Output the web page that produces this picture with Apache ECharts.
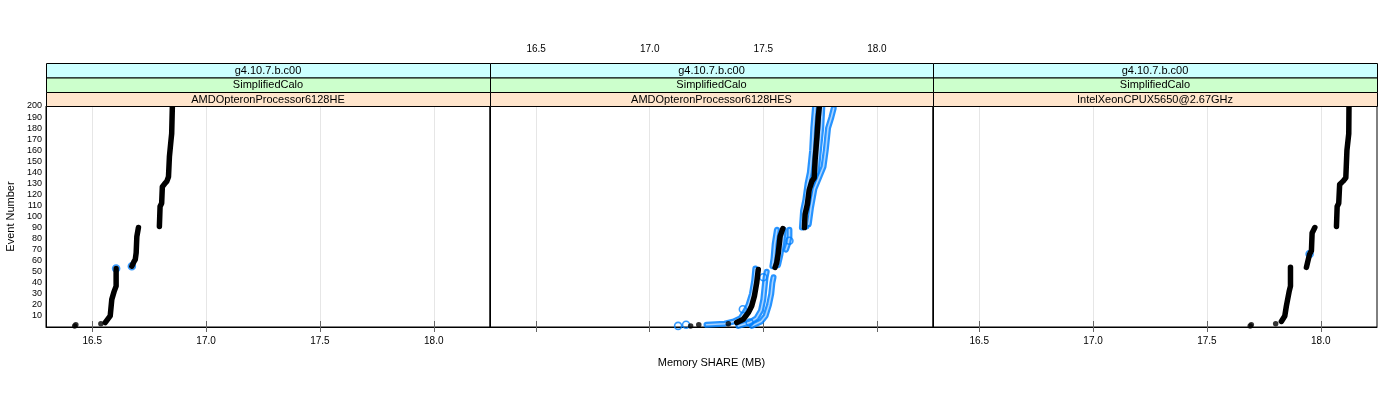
<!DOCTYPE html>
<html>
<head>
<meta charset="utf-8">
<script src="https://cdn.jsdelivr.net/npm/echarts@6/dist/echarts.min.js"></script>
<style>html,body{margin:0;padding:0;background:#fff}#c{width:1400px;height:400px}</style>
</head>
<body>
<div id="c"></div>
<script>
// ---- data ----
const stripTop = ['g4.10.7.b.c00', 'g4.10.7.b.c00', 'g4.10.7.b.c00'];
const stripMid = ['SimplifiedCalo', 'SimplifiedCalo', 'SimplifiedCalo'];
const stripBot = ['AMDOpteronProcessor6128HE', 'AMDOpteronProcessor6128HES', 'IntelXeonCPUX5650@2.67GHz'];
const xTicks = [16.5, 17.0, 17.5, 18.0];
const yTicks = [10,20,30,40,50,60,70,80,90,100,110,120,130,140,150,160,170,180,190,200];
const xRange = [16.297, 18.247];
const yRange = [0, 200];

// black (main) measurement: isolated points [memory, event]
const p1BlackPts = [[16.423, 1], [16.428, 2], [16.538, 3]];
const p2BlackPts = [[17.180, 1], [17.216, 2], [17.346, 3]];
const p3BlackPts = [[17.690, 1], [17.695, 2], [17.802, 3]];
// black segments (each an array of [memory, event])
const p1BlackSeg = [
  [[16.557,4],[16.579,10],[16.586,25],[16.596,32],[16.605,37],[16.605,53]],
  [[16.674,55],[16.683,59],[16.689,61],[16.693,67],[16.696,82],[16.703,90]],
  [[16.795,91],[16.798,109],[16.805,112],[16.808,127],[16.820,130],[16.828,132],[16.835,136],[16.839,154],[16.846,169],[16.849,175],[16.852,200]]
];
const p2BlackSeg = [
  [[17.383,4],[17.412,7],[17.434,13],[17.449,19],[17.461,28],[17.471,40],[17.478,52]],
  [[17.552,54],[17.559,58],[17.566,67],[17.574,82],[17.586,89]],
  [[17.681,90],[17.684,102],[17.694,111],[17.702,124],[17.714,132],[17.724,135],[17.728,151],[17.736,172],[17.742,190],[17.747,200]]
];
const p3BlackSeg = [
  [[17.827,5],[17.842,10],[17.849,19],[17.861,32],[17.867,37],[17.867,54]],
  [[17.937,54],[17.944,60],[17.951,66],[17.959,69],[17.962,85],[17.974,90]],
  [[18.069,91],[18.072,109],[18.079,112],[18.083,129],[18.098,132],[18.110,135],[18.115,160],[18.123,175],[18.124,200]]
];
// blue (other runs) isolated rings
const p1BluePts = [[16.605, 53], [16.674, 55]];
const p3BluePts = [[17.951, 66]];
const p2BluePts = [[17.125, 1], [17.160, 2], [17.410, 16], [17.440, 4], [17.500, 45], [17.615, 78]];
// blue runs in the middle panel (segments)
const p2BlueRuns = [
  [[17.250,2],[17.330,3],[17.370,5],[17.400,8],[17.420,14],[17.435,20],[17.450,30],[17.460,42],[17.465,53]],
  [[17.540,55],[17.545,62],[17.550,75],[17.560,88]],
  [[17.670,90],[17.675,105],[17.685,115],[17.695,130],[17.705,140],[17.715,160],[17.720,180],[17.728,200]],
  [[17.390,1],[17.440,4],[17.470,8],[17.490,15],[17.500,25],[17.505,35],[17.510,45],[17.515,50]],
  [[17.565,56],[17.575,65],[17.585,78],[17.590,88]],
  [[17.690,91],[17.695,105],[17.705,118],[17.720,132],[17.735,140],[17.745,160],[17.755,180],[17.760,200]],
  [[17.450,1],[17.490,5],[17.510,10],[17.525,20],[17.535,30],[17.540,40],[17.545,45]],
  [[17.600,70],[17.610,76],[17.615,82],[17.615,88]],
  [[17.700,93],[17.710,108],[17.725,125],[17.745,135],[17.765,145],[17.775,160],[17.785,180],[17.800,190],[17.810,198]]
];
const xTitle = 'Memory SHARE (MB)';
const yTitle = 'Event Number';

// ---- layout ----
const FONT = 'Liberation Sans, Arial, sans-serif';
const panelLeft = [46, 490, 933];
const panelWidth = [444, 443, 444];
const plotTop = 106, plotH = 221;
const stripY = [63, 77.5, 92, 106];
const stripColors = ['#ccffff', '#ccffcc', '#ffe5cc'];
const BLUE = '#0080ff';

const grids = [], xAxes = [], yAxes = [], series = [], graphics = [];
for (let i = 0; i < 3; i++) {
  grids.push({left: panelLeft[i], top: plotTop, width: panelWidth[i], height: plotH,
    show: true, borderColor: '#000', borderWidth: 1, backgroundColor: 'transparent'});
}
for (let i = 0; i < 3; i++) {
  grids.push({left: panelLeft[i], top: stripY[0], width: panelWidth[i], height: plotTop + plotH - stripY[0]});
}
for (let i = 0; i < 3; i++) {
  xAxes.push({
    type: 'value', gridIndex: i, min: xRange[0], max: xRange[1], position: 'bottom',
    axisLine: {show: true, lineStyle: {color: '#000'}},
    axisTick: {show: true, inside: false, length: 5, customValues: xTicks, lineStyle: {color: '#666'}},
    axisLabel: {show: i !== 1, customValues: xTicks, margin: 9, fontFamily: FONT, fontSize: 10, color: '#000',
      formatter: v => v.toFixed(1)},
    splitLine: {show: true, lineStyle: {color: '#e6e6e6', width: 1}},
    name: i === 1 ? xTitle : '', nameLocation: 'middle', nameGap: 30,
    nameTextStyle: {fontFamily: FONT, fontSize: 11, color: '#000'}
  });
  yAxes.push({
    type: 'value', gridIndex: i, min: yRange[0], max: yRange[1],
    axisLine: {show: true, lineStyle: {color: '#000'}},
    axisTick: {show: false, customValues: yTicks},
    axisLabel: {show: i === 0, customValues: yTicks, margin: 4, fontFamily: FONT, fontSize: 9, color: '#000'},
    splitLine: {show: false},
    name: i === 0 ? yTitle : '', nameLocation: 'middle', nameGap: 30,
    nameTextStyle: {fontFamily: FONT, fontSize: 11, color: '#000'}
  });
}
for (let i = 0; i < 3; i++) {
  xAxes.push({
    type: 'value', gridIndex: 3 + i, min: xRange[0], max: xRange[1], position: 'top',
    axisLine: {show: false},
    axisTick: {show: true, inside: false, length: 6, customValues: xTicks, lineStyle: {color: '#666'}},
    axisLabel: {show: i === 1, customValues: xTicks, margin: 9, fontFamily: FONT, fontSize: 10, color: '#000',
      formatter: v => v.toFixed(1)},
    splitLine: {show: false}
  });
  yAxes.push({type: 'value', gridIndex: 3 + i, min: 0, max: 1, show: false});
}

function addBlueRuns(runs, idx) {
  runs.forEach(seg => {
    series.push({type: 'line', xAxisIndex: idx, yAxisIndex: idx, data: seg, showSymbol: false, silent: true,
      lineStyle: {color: BLUE, width: 6, cap: 'round', join: 'round', opacity: 0.85}, z: 2, animation: false});
  });
  runs.forEach(seg => {
    series.push({type: 'line', xAxisIndex: idx, yAxisIndex: idx, data: seg, showSymbol: false, silent: true,
      lineStyle: {color: '#a9d3ff', width: 1.6, cap: 'round', join: 'round'}, z: 2, animation: false});
  });
}
function addBlueRings(pts, idx) {
  series.push({type: 'scatter', xAxisIndex: idx, yAxisIndex: idx, data: pts, symbol: 'circle', symbolSize: 7,
    itemStyle: {color: 'transparent', borderColor: BLUE, borderWidth: 1.6}, z: 3, animation: false});
}
function addBlack(segs, pts, idx) {
  segs.forEach(seg => {
    series.push({type: 'line', xAxisIndex: idx, yAxisIndex: idx, data: seg, showSymbol: false, silent: true,
      lineStyle: {color: '#000', width: 5.5, cap: 'round', join: 'round'}, z: 4, animation: false});
  });
  series.push({type: 'scatter', xAxisIndex: idx, yAxisIndex: idx, data: pts, symbol: 'circle', symbolSize: 5.5,
    itemStyle: {color: '#000'}, z: 4, animation: false});
}
addBlueRuns(p2BlueRuns, 1);
addBlueRings(p2BluePts, 1);
addBlack(p1BlackSeg, p1BlackPts, 0);
addBlack(p2BlackSeg, p2BlackPts, 1);
addBlack(p3BlackSeg, p3BlackPts, 2);
addBlueRings(p1BluePts, 0);
addBlueRings(p3BluePts, 2);

const stripTexts = [stripTop, stripMid, stripBot];
for (let i = 0; i < 3; i++) {
  for (let k = 0; k < 3; k++) {
    graphics.push({type: 'rect', silent: true,
      shape: {x: panelLeft[i] + 0.5, y: stripY[k] + 0.5, width: panelWidth[i], height: stripY[k + 1] - stripY[k]},
      style: {fill: stripColors[k], stroke: '#000', lineWidth: 1}, z: 10});
    graphics.push({type: 'text', silent: true,
      x: panelLeft[i] + panelWidth[i] / 2, y: (stripY[k] + stripY[k + 1]) / 2 + 0.5,
      style: {text: stripTexts[k][i], fill: '#000', font: '11px ' + FONT, textAlign: 'center', textVerticalAlign: 'middle'}, z: 11});
  }
}

const chart = echarts.init(document.getElementById('c'), null, {renderer: 'canvas'});
chart.setOption({
  animation: false,
  backgroundColor: '#fff',
  grid: grids, xAxis: xAxes, yAxis: yAxes, series: series,
  graphic: graphics
});
</script>
</body>
</html>
